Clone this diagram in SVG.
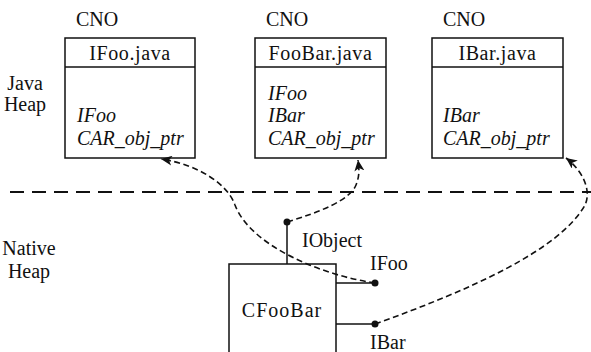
<svg xmlns="http://www.w3.org/2000/svg" width="591" height="352" viewBox="0 0 591 352">
<style>
text{font-family:"Liberation Serif","Times New Roman",serif;font-size:20px;fill:#111}
.it{font-style:italic}
.box{fill:#fff;stroke:#111;stroke-width:1.5}
.ln{stroke:#111;stroke-width:1.5;fill:none}
.dc{stroke:#111;stroke-width:1.6;fill:none;stroke-dasharray:6 3.5}
.sep{stroke:#111;stroke-width:2;stroke-dasharray:14 8;fill:none}
.dot{fill:#111}
</style>
<defs>
<marker id="arr" markerWidth="12" markerHeight="10" refX="11" refY="5" orient="auto" markerUnits="userSpaceOnUse">
<path d="M0,0 L11,5 L0,10 L3,5 Z" fill="#111"/>
</marker>
</defs>
<rect width="591" height="352" fill="#fff"/>
<g id="labels">
<text x="25" y="90" text-anchor="middle">Java</text>
<text x="25" y="111" text-anchor="middle">Heap</text>
<text x="29" y="255" text-anchor="middle">Native</text>
<text x="29" y="278" text-anchor="middle">Heap</text>
</g>
<path class="sep" d="M10,192 H591"/>
<g id="ifoo">
<text x="76" y="26">CNO</text>
<rect class="box" x="65" y="38" width="130" height="120"/>
<line class="ln" x1="65" y1="67" x2="195" y2="67"/>
<text x="130" y="60" text-anchor="middle" letter-spacing="0.6">IFoo.java</text>
<text class="it" x="77" y="122">IFoo</text>
<text class="it" x="77" y="145">CAR_obj_ptr</text>
</g>
<g id="foobar">
<text x="266" y="26">CNO</text>
<rect class="box" x="255" y="38" width="131" height="120"/>
<line class="ln" x1="255" y1="67" x2="386" y2="67"/>
<text x="320.5" y="60" text-anchor="middle" letter-spacing="0.6">FooBar.java</text>
<text class="it" x="268" y="100">IFoo</text>
<text class="it" x="268" y="122">IBar</text>
<text class="it" x="268" y="145">CAR_obj_ptr</text>
</g>
<g id="ibar">
<text x="443" y="26">CNO</text>
<rect class="box" x="432" y="38" width="131" height="120"/>
<line class="ln" x1="432" y1="67" x2="563" y2="67"/>
<text x="497.5" y="60" text-anchor="middle" letter-spacing="0.6">IBar.java</text>
<text class="it" x="443" y="122">IBar</text>
<text class="it" x="443" y="145">CAR_obj_ptr</text>
</g>
<g id="cfoobar">
<rect class="box" x="229" y="264" width="107" height="100"/>
<text x="282" y="317" text-anchor="middle" letter-spacing="1">CFooBar</text>
<line class="ln" x1="287" y1="264" x2="287" y2="222"/>
<circle class="dot" cx="287" cy="222" r="3.5"/>
<text x="302" y="247">IObject</text>
<line class="ln" x1="336" y1="283" x2="375" y2="283"/>
<circle class="dot" cx="375" cy="283" r="3.5"/>
<text x="370" y="270">IFoo</text>
<line class="ln" x1="336" y1="324" x2="375" y2="324"/>
<circle class="dot" cx="375" cy="324" r="3.5"/>
<text x="370" y="349">IBar</text>
</g>
<g id="connectors">
<path class="dc" d="M375,283 C320,275 250,245 235,205 C228,185 200,165 161,159" marker-end="url(#arr)"/>
<path class="dc" d="M287,222 C320,212 350,200 356,185 C360,175 359,168 358,160" marker-end="url(#arr)"/>
<path class="dc" d="M375,324 C470,290 560,250 585,205 C592,190 582,170 566,158" marker-end="url(#arr)"/>
</g>
</svg>
